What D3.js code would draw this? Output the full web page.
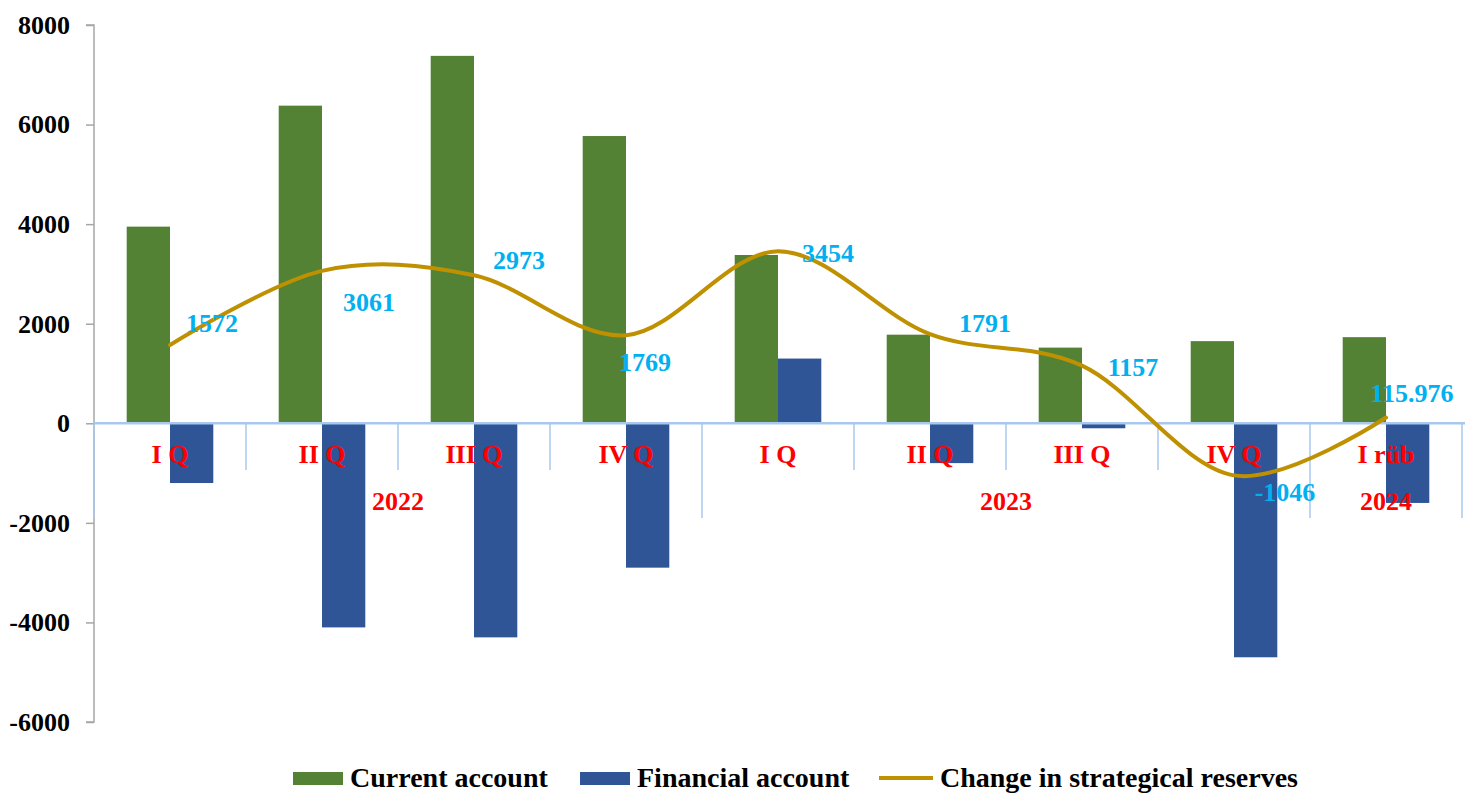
<!DOCTYPE html>
<html><head><meta charset="utf-8">
<script src="https://cdn.jsdelivr.net/npm/d3@7"></script>
<style>
body{margin:0;background:#fff;}
text{font-family:"Liberation Serif","Times New Roman",serif;font-weight:bold;}
</style></head>
<body>
<svg id="chart" width="1470" height="795"></svg>
<script>
const categories = ["I Q","II Q","III Q","IV Q","I Q","II Q","III Q","IV Q","I rüb"];
const years = ["2022","2023","2024"];
const yearSpans = [4,4,1];
const currentAccount = [3950,6380,7380,5770,3380,1780,1520,1650,1730];
const financialAccount = [-1200,-4100,-4300,-2900,1300,-800,-100,-4700,-1600];
const reserves = [1572,3061,2973,1769,3454,1791,1157,-1046,115.976];
const reserveLabels = ["1572","3061","2973","1769","3454","1791","1157","-1046","115.976"];
const yTicks = [-6000,-4000,-2000,0,2000,4000,6000,8000];
const seriesNames = ["Current account","Financial account","Change in strategical reserves"];

// label layout offsets (pixels) relative to each line point
const labelDx = [42,47,45,19,50,55,51,51,26];
const labelDy = [-22,31,-15,27,2,-11,1,17,-25];

const colors = {ca:"#548235", fa:"#2f5597", line:"#bf9000", lbl:"#00b0f0", cat:"#ff0000"};

const svg = d3.select("#chart");
const pLeft = 94, pRight = 1462, pTop = 25, pBottom = 722;

const y = d3.scaleLinear().domain([-6000,8000]).range([pBottom, pTop]);
const x = d3.scaleBand().domain(d3.range(categories.length)).range([pLeft, pRight]).padding(0);
const xs = d3.scaleBand().domain(["ca","fa"]).range([0, x.bandwidth()]).paddingInner(0).paddingOuter(0.755);

// bars
const g = svg.append("g");
g.selectAll("rect.ca").data(currentAccount).join("rect")
  .attr("x",(d,i)=>x(i)+xs("ca")).attr("width",xs.bandwidth())
  .attr("y",d=>y(Math.max(0,d))).attr("height",d=>Math.abs(y(d)-y(0)))
  .attr("fill",colors.ca);
g.selectAll("rect.fa").data(financialAccount).join("rect")
  .attr("x",(d,i)=>x(i)+xs("fa")).attr("width",xs.bandwidth())
  .attr("y",d=>y(Math.max(0,d))).attr("height",d=>Math.abs(y(d)-y(0)))
  .attr("fill",colors.fa);

// y axis
const yAxis = svg.append("g").attr("transform",`translate(${pLeft},0)`)
  .call(d3.axisLeft(y).tickValues(yTicks).tickSize(8).tickPadding(16).tickFormat(d=>String(d)));
yAxis.select(".domain").attr("stroke","#a6a6a6").attr("stroke-width",1.5).attr("d",`M-8,${y(8000)}H0V${y(-6000)}H-8`);
yAxis.selectAll(".tick line").attr("stroke","#a6a6a6").attr("stroke-width",1.5);
yAxis.selectAll(".tick text").attr("font-size",26).attr("fill","#000")
  .style("font-family","Liberation Serif, Times New Roman, serif").style("font-weight","bold");

// x axis (multi-level)
const axisColor = "#a9c8ee";
svg.append("line").attr("x1",pLeft).attr("x2",1465).attr("y1",y(0)).attr("y2",y(0))
  .attr("stroke",axisColor).attr("stroke-width",2.5);
const groupBounds = [0];
yearSpans.reduce((a,s)=>{groupBounds.push(a+s);return a+s;},0);
d3.range(categories.length+1).forEach(i=>{
  const xx = i<categories.length ? x(i) : pRight;
  const isGroup = groupBounds.includes(i);
  svg.append("line").attr("x1",xx).attr("x2",xx).attr("y1",y(0)).attr("y2",isGroup?518:470)
    .attr("stroke",axisColor).attr("stroke-width",1.5);
});
svg.selectAll("text.cat").data(categories).join("text")
  .attr("x",(d,i)=>x(i)+x.bandwidth()/2).attr("y",463)
  .attr("text-anchor","middle").attr("font-size",26).attr("fill",colors.cat).text(d=>d);
svg.selectAll("text.year").data(years).join("text")
  .attr("x",(d,i)=>{const s=groupBounds[i], e=groupBounds[i+1]; return (x(s)+(e<categories.length?x(e):pRight))/2;})
  .attr("y",510).attr("text-anchor","middle").attr("font-size",26).attr("fill",colors.cat).text(d=>d);

// line
const px = i => x(i)+x.bandwidth()/2;
const line = d3.line().x((d,i)=>px(i)).y(d=>y(d)).curve(d3.curveCardinal.tension(0));
svg.append("path").datum(reserves).attr("d",line).attr("fill","none")
  .attr("stroke",colors.line).attr("stroke-width",4).attr("stroke-linecap","round");

// line labels
svg.selectAll("text.lbl").data(reserves).join("text")
  .attr("x",(d,i)=>px(i)+labelDx[i]).attr("y",(d,i)=>y(d)+labelDy[i])
  .attr("dy","0.35em").attr("text-anchor","middle").attr("font-size",26)
  .attr("fill",colors.lbl).text((d,i)=>reserveLabels[i]);

// legend
const lg = svg.append("g");
const legendItems = [
  {name:seriesNames[0], type:"rect", color:colors.ca, x:293},
  {name:seriesNames[1], type:"rect", color:colors.fa, x:580},
  {name:seriesNames[2], type:"line", color:colors.line, x:879}
];
legendItems.forEach(it=>{
  if(it.type==="rect") lg.append("rect").attr("x",it.x).attr("y",772).attr("width",50).attr("height",13).attr("fill",it.color);
  else lg.append("line").attr("x1",it.x).attr("x2",it.x+54).attr("y1",778).attr("y2",778).attr("stroke",it.color).attr("stroke-width",4);
  lg.append("text").attr("x",it.x+(it.type==="rect"?57:61)).attr("y",787).attr("font-size",28).attr("fill","#000").text(it.name);
});
</script>
</body></html>
